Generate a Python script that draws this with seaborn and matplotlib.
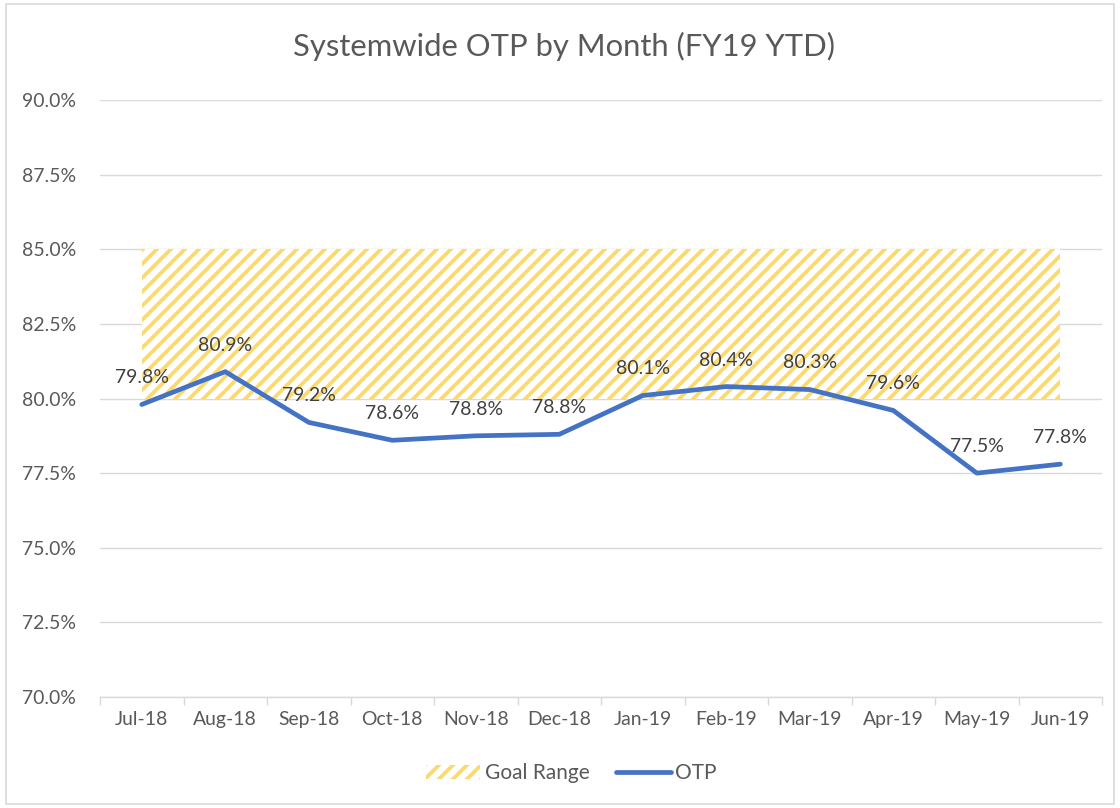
import matplotlib
matplotlib.use("Agg")
import matplotlib.pyplot as plt
from matplotlib.patches import Patch, Rectangle
from matplotlib.lines import Line2D
from matplotlib.ticker import FuncFormatter, MultipleLocator
import numpy as np
import pandas as pd
import seaborn as sns

# Monthly on-time performance (percent)
months = ["Jul-18", "Aug-18", "Sep-18", "Oct-18", "Nov-18", "Dec-18",
          "Jan-19", "Feb-19", "Mar-19", "Apr-19", "May-19", "Jun-19"]
otp = [79.8, 80.9, 79.2, 78.6, 78.75, 78.8, 80.1, 80.4, 80.3, 79.6, 77.5, 77.8]

# Goal band
goal_low = 80.0
goal_high = 85.0

title = "Systemwide OTP by Month (FY19 YTD)"

# Render at 84 dpi so the "//" hatch cell gives ~14 px stripe spacing;
# sizes below are written for 100 dpi and scaled by S.
DPI = 84
S = 100 / DPI


def pt(v):
    return v * S


sns.set_theme(style="white")
plt.rcParams["font.family"] = ["Lato", "DejaVu Sans"]
plt.rcParams["hatch.linewidth"] = pt(2.7)

text_grey = "#595959"
grid_grey = "#d9d9d9"
line_blue = "#4472C4"
goal_yellow = "#FFD966"

df = pd.DataFrame({"Month": months, "OTP": otp})
xpos = np.arange(len(months))

fig = plt.figure(figsize=(1120 / DPI, 808 / DPI), dpi=DPI)
ax = fig.add_axes([0.0893, 0.1374, 0.8947, 0.7388])

# Hatched goal range between first and last month
ax.fill_between(xpos, goal_low, goal_high, facecolor="white",
                edgecolor=goal_yellow, hatch="//", linewidth=0, zorder=1)

sns.lineplot(data=df, x="Month", y="OTP", sort=False, color=line_blue,
             linewidth=pt(3.4), ax=ax, zorder=3, legend=False)

for i, v in enumerate(otp):
    ax.annotate(f"{v:.1f}%", (i, v), xytext=(0, pt(13)), textcoords="offset points",
                ha="center", va="bottom", fontsize=pt(14), color="#404040", zorder=4)

ax.set_xlim(-0.5, len(months) - 0.5)
ax.set_ylim(70, 90)
ax.yaxis.set_major_locator(MultipleLocator(2.5))
ax.yaxis.set_major_formatter(FuncFormatter(lambda v, _: f"{v:.1f}%"))
ax.grid(axis="y", color=grid_grey, linewidth=pt(1.0))
ax.set_axisbelow(True)
ax.set_xlabel("")
ax.set_ylabel("")

for side in ["left", "right", "top"]:
    ax.spines[side].set_visible(False)
ax.spines["bottom"].set_color(grid_grey)
ax.spines["bottom"].set_linewidth(pt(1.0))

ax.set_xticks(xpos)
ax.set_xticklabels(months)
ax.set_xticks(np.arange(-0.5, len(months)), minor=True)
ax.tick_params(axis="x", which="major", length=0, pad=pt(10), labelsize=pt(14), labelcolor=text_grey)
ax.tick_params(axis="x", which="minor", length=pt(6), width=pt(1.0), color=grid_grey,
               direction="out", bottom=True)
ax.tick_params(axis="y", length=0, pad=pt(56), labelsize=pt(14), labelcolor=text_grey)
for lbl in ax.get_yticklabels():
    lbl.set_horizontalalignment("left")

fig.text(0.504, 0.942, title, ha="center", va="center", fontsize=pt(22.3), color=text_grey)

handles = [Patch(facecolor="white", edgecolor=goal_yellow, hatch="//", linewidth=0, label="Goal Range"),
           Line2D([0], [0], color=line_blue, linewidth=pt(3.4), label="OTP")]
fig.legend(handles=handles, loc="center", bbox_to_anchor=(0.51, 0.043), ncol=2, frameon=False,
           fontsize=pt(15), labelcolor=text_grey, handlelength=2.6, handletextpad=0.2,
           columnspacing=1.3)

fig.add_artist(Rectangle((0.005, 0.005), 0.99, 0.99, transform=fig.transFigure,
                         fill=False, edgecolor=grid_grey, linewidth=pt(1.2)))

fig.savefig("out.png", dpi=DPI)
